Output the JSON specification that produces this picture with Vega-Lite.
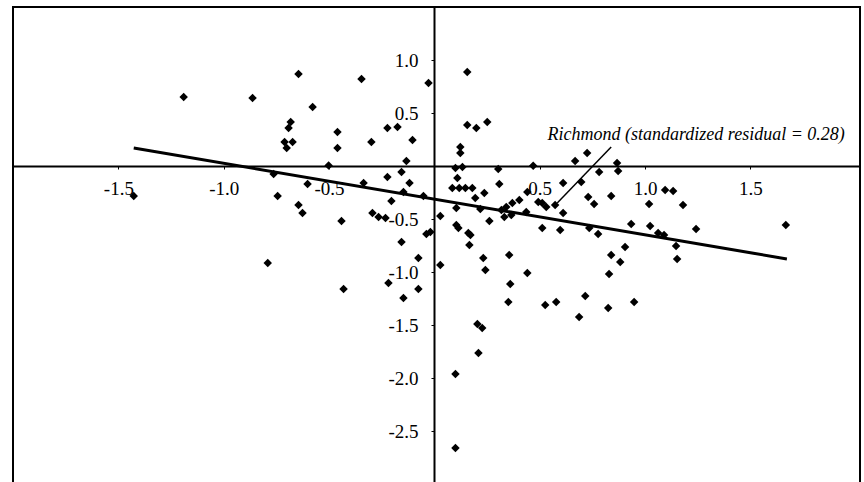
{
  "$schema": "https://vega.github.io/schema/vega-lite/v6.json",
  "width": 847,
  "height": 477,
  "autosize": {"type": "none"},
  "padding": {"left": 13, "top": 7, "right": 4, "bottom": 0},
  "background": "white",
  "config": {
    "view": {"stroke": "black", "strokeWidth": 2},
    "axis": {
      "grid": false,
      "title": null,
      "domainColor": "black",
      "domainWidth": 2,
      "tickColor": "black",
      "tickSize": 3,
      "labelColor": "black",
      "labelFont": "Liberation Serif",
      "labelFontSize": 19,
      "labelOverlap": false,
      "labelFlush": false
    }
  },
  "datasets": {
    "pts": [
      {"x": -1.427, "y": -0.283}, {"x": -1.190, "y": 0.651}, {"x": -0.863, "y": 0.642}, {"x": -0.645, "y": 0.868},
      {"x": -0.578, "y": 0.557}, {"x": -0.682, "y": 0.415}, {"x": -0.692, "y": 0.358}, {"x": -0.711, "y": 0.226},
      {"x": -0.673, "y": 0.226}, {"x": -0.701, "y": 0.170}, {"x": -0.791, "y": -0.915}, {"x": -0.763, "y": -0.075},
      {"x": -0.744, "y": -0.283}, {"x": -0.645, "y": -0.368}, {"x": -0.626, "y": -0.443}, {"x": -0.602, "y": -0.170},
      {"x": -0.502, "y": 0.005}, {"x": -0.460, "y": 0.321}, {"x": -0.460, "y": 0.170}, {"x": -0.441, "y": -0.519},
      {"x": -0.431, "y": -1.160}, {"x": -0.346, "y": 0.821}, {"x": -0.336, "y": -0.160}, {"x": -0.299, "y": 0.226},
      {"x": -0.294, "y": -0.443}, {"x": -0.265, "y": -0.481}, {"x": -0.232, "y": -0.491}, {"x": -0.223, "y": 0.358},
      {"x": -0.175, "y": 0.368}, {"x": -0.223, "y": -0.104}, {"x": -0.218, "y": -1.104}, {"x": -0.204, "y": -0.330},
      {"x": -0.156, "y": -0.057}, {"x": -0.156, "y": -0.717}, {"x": -0.147, "y": -1.245}, {"x": -0.133, "y": 0.047},
      {"x": -0.118, "y": -0.160}, {"x": -0.104, "y": 0.245}, {"x": -0.076, "y": -0.868}, {"x": -0.076, "y": -1.160},
      {"x": -0.052, "y": -0.283}, {"x": -0.038, "y": -0.642}, {"x": -0.019, "y": -0.623}, {"x": -0.028, "y": 0.783},
      {"x": -0.147, "y": -0.245}, {"x": 0.028, "y": -0.472}, {"x": 0.028, "y": -0.934}, {"x": 0.100, "y": -0.019},
      {"x": 0.133, "y": -0.009}, {"x": 0.109, "y": -0.113}, {"x": 0.085, "y": -0.208}, {"x": 0.118, "y": -0.208},
      {"x": 0.147, "y": -0.208}, {"x": 0.180, "y": -0.208}, {"x": 0.123, "y": 0.179}, {"x": 0.123, "y": 0.123},
      {"x": 0.156, "y": 0.887}, {"x": 0.156, "y": 0.387}, {"x": 0.199, "y": 0.358}, {"x": 0.251, "y": 0.415},
      {"x": 0.194, "y": -0.302}, {"x": 0.104, "y": -0.396}, {"x": 0.104, "y": -0.557}, {"x": 0.114, "y": -0.585},
      {"x": 0.161, "y": -0.632}, {"x": 0.171, "y": -0.651}, {"x": 0.166, "y": -0.745}, {"x": 0.218, "y": -0.406},
      {"x": 0.237, "y": -0.255}, {"x": 0.261, "y": -0.519}, {"x": 0.232, "y": -0.868}, {"x": 0.242, "y": -0.981},
      {"x": 0.204, "y": -1.491}, {"x": 0.227, "y": -1.528}, {"x": 0.209, "y": -1.764}, {"x": 0.100, "y": -1.962},
      {"x": 0.100, "y": -2.660}, {"x": 0.303, "y": -0.028}, {"x": 0.308, "y": -0.170}, {"x": 0.332, "y": -0.481},
      {"x": 0.365, "y": -0.462}, {"x": 0.318, "y": -0.415}, {"x": 0.341, "y": -0.387}, {"x": 0.370, "y": -0.349},
      {"x": 0.403, "y": -0.321}, {"x": 0.441, "y": -0.245}, {"x": 0.436, "y": -0.434}, {"x": 0.355, "y": -0.840},
      {"x": 0.441, "y": -1.009}, {"x": 0.360, "y": -1.113}, {"x": 0.351, "y": -1.283}, {"x": 0.469, "y": 0.003},
      {"x": 0.493, "y": -0.340}, {"x": 0.512, "y": -0.349}, {"x": 0.531, "y": -0.387}, {"x": 0.573, "y": -0.368},
      {"x": 0.611, "y": -0.443}, {"x": 0.512, "y": -0.585}, {"x": 0.597, "y": -0.604}, {"x": 0.526, "y": -1.311},
      {"x": 0.578, "y": -1.283}, {"x": 0.611, "y": -0.160}, {"x": 0.697, "y": -0.151}, {"x": 0.668, "y": 0.047},
      {"x": 0.725, "y": 0.123}, {"x": 0.782, "y": -0.057}, {"x": 0.867, "y": 0.028}, {"x": 0.872, "y": -0.047},
      {"x": 0.730, "y": -0.292}, {"x": 0.758, "y": -0.358}, {"x": 0.839, "y": -0.283}, {"x": 0.735, "y": -0.585},
      {"x": 0.777, "y": -0.642}, {"x": 0.716, "y": -1.226}, {"x": 0.687, "y": -1.425}, {"x": 0.825, "y": -1.340},
      {"x": 0.829, "y": -1.019}, {"x": 0.839, "y": -0.840}, {"x": 0.882, "y": -0.906}, {"x": 0.905, "y": -0.764},
      {"x": 0.934, "y": -0.547}, {"x": 0.948, "y": -1.283}, {"x": 1.019, "y": -0.358}, {"x": 1.024, "y": -0.566},
      {"x": 1.062, "y": -0.632}, {"x": 1.090, "y": -0.651}, {"x": 1.095, "y": -0.226}, {"x": 1.133, "y": -0.236},
      {"x": 1.180, "y": -0.368}, {"x": 1.242, "y": -0.594}, {"x": 1.147, "y": -0.755}, {"x": 1.152, "y": -0.877},
      {"x": 1.668, "y": -0.557}
    ],
    "fit": [
      {"x": -1.427, "y": 0.170},
      {"x": 1.673, "y": -0.877}
    ],
    "leader": [
      {"x": 0.839, "y": 0.179, "x2": 0.583, "y2": -0.349}
    ],
    "note": [
      {"x": 1.948, "y": 0.292, "label": "Richmond (standardized residual = 0.28)"}
    ]
  },
  "layer": [
    {
      "data": {"name": "pts"},
      "mark": {"type": "point", "shape": "diamond", "filled": true, "color": "black", "size": 72, "opacity": 1},
      "encoding": {
        "x": {
          "field": "x", "type": "quantitative",
          "scale": {"domain": [-2, 2.02], "nice": false, "zero": false},
          "axis": {
            "orient": "bottom", "offset": -318,
            "values": [-1.5, -1, -0.5, 0.5, 1, 1.5],
            "labelPadding": 10,
            "labelExpr": "(datum.value < 0 ? '-' : '') + format(abs(datum.value), '.1f')"
          }
        },
        "y": {
          "field": "y", "type": "quantitative",
          "scale": {"domain": [-3, 1.5], "nice": false, "zero": false},
          "axis": {
            "orient": "left", "offset": -421,
            "values": [-2.5, -2, -1.5, -1, -0.5, 0.5, 1],
            "labelPadding": 13,
            "labelExpr": "(datum.value < 0 ? '-' : '') + format(abs(datum.value), '.1f')"
          }
        }
      }
    },
    {
      "data": {"name": "fit"},
      "mark": {"type": "line", "color": "black", "strokeWidth": 3},
      "encoding": {
        "x": {"field": "x", "type": "quantitative"},
        "y": {"field": "y", "type": "quantitative"}
      }
    },
    {
      "data": {"name": "leader"},
      "mark": {"type": "rule", "color": "black", "strokeWidth": 1.5},
      "encoding": {
        "x": {"field": "x", "type": "quantitative"},
        "y": {"field": "y", "type": "quantitative"},
        "x2": {"field": "x2"},
        "y2": {"field": "y2"}
      }
    },
    {
      "data": {"name": "note"},
      "mark": {"type": "text", "align": "right", "baseline": "middle", "font": "Liberation Serif", "fontStyle": "italic", "fontSize": 18, "color": "black"},
      "encoding": {
        "x": {"field": "x", "type": "quantitative"},
        "y": {"field": "y", "type": "quantitative"},
        "text": {"field": "label"}
      }
    }
  ]
}
